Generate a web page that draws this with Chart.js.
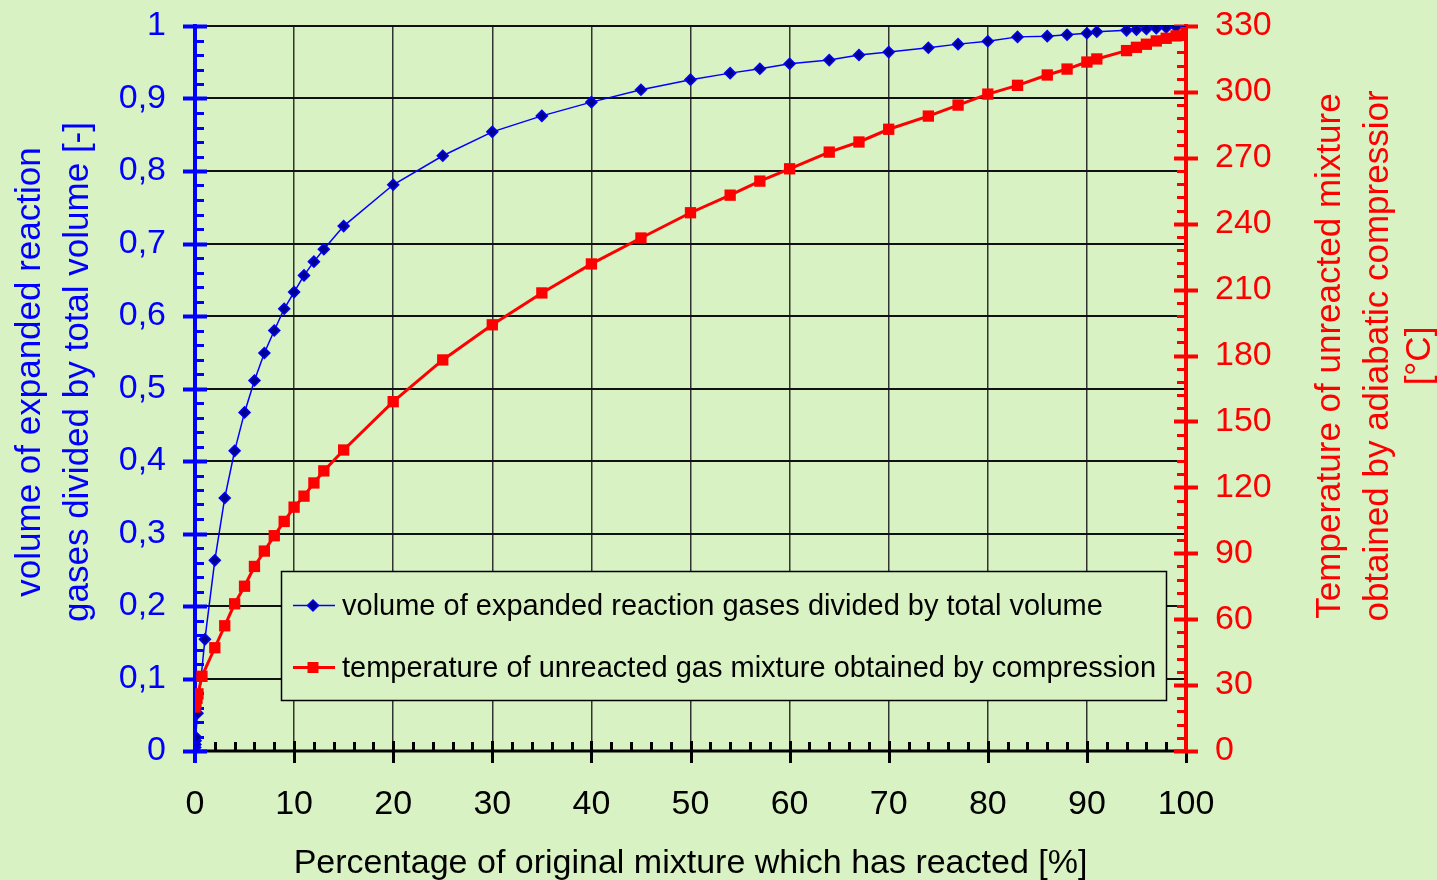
<!DOCTYPE html>
<html>
<head>
<meta charset="utf-8">
<script src="https://cdn.jsdelivr.net/npm/chart.js@4/dist/chart.umd.min.js"></script>
<style>
  html, body { margin: 0; padding: 0; background: #d9f2c3; }
  #wrap { position: relative; width: 1437px; height: 880px; }
</style>
</head>
<body>
<div id="wrap"><canvas id="c"></canvas></div>
<script>
// ---- data ----
const volumeX = [0.02, 0.04, 0.06, 0.1, 0.25, 1, 2, 3, 4, 5, 6, 7, 8, 9, 10, 11, 12, 13, 15, 20, 25, 30, 35, 40, 45, 50, 54, 57, 60, 64, 67, 70, 74, 77, 80, 83, 86, 88, 90, 91, 94, 95, 96, 97, 98, 99, 100];
const volumeY = [0.005, 0.009, 0.014, 0.019, 0.052, 0.154, 0.263, 0.349, 0.414, 0.467, 0.511, 0.549, 0.58, 0.61, 0.633, 0.656, 0.675, 0.692, 0.724, 0.781, 0.821, 0.854, 0.876, 0.895, 0.912, 0.926, 0.935, 0.941, 0.948, 0.953, 0.96, 0.964, 0.97, 0.975, 0.979, 0.985, 0.986, 0.988, 0.99, 0.992, 0.994, 0.995, 0.996, 0.997, 0.998, 0.999, 1.0];
const tempX = [0, 0.1, 0.2, 0.3, 0.7, 2, 3, 4, 5, 6, 7, 8, 9, 10, 11, 12, 13, 15, 20, 25, 30, 35, 40, 45, 50, 54, 57, 60, 64, 67, 70, 74, 77, 80, 83, 86, 88, 90, 91, 94, 95, 96, 97, 98, 99, 100];
const tempY = [20, 22, 24, 26, 34, 47, 57, 67, 75, 84, 91, 98, 104.5, 111, 116, 122, 127.5, 137, 159, 178, 194, 208.5, 221.7, 233.5, 245, 253, 259.4, 265, 272.6, 277.2, 283, 289, 294, 299, 303, 307.7, 310.4, 313.6, 315, 318.8, 320.3, 321.7, 323.2, 324.4, 325.5, 327];
const xTickValues = [0, 10, 20, 30, 40, 50, 60, 70, 80, 90, 100];
const volumeTickValues = [0, 0.1, 0.2, 0.3, 0.4, 0.5, 0.6, 0.7, 0.8, 0.9, 1];
const tempTickValues = [0, 30, 60, 90, 120, 150, 180, 210, 240, 270, 300, 330];
const seriesNames = [
  'volume of expanded reaction gases divided by total volume',
  'temperature of unreacted gas mixture obtained by compression'
];
const xTitle = 'Percentage of original mixture which has reacted [%]';
const leftTitle = ['volume of expanded reaction', 'gases divided by total volume [-]'];
const rightTitle = ['Temperature of unreacted mixture', 'obtained by adiabatic compressior', '[°C]'];

const FONT = '"Liberation Sans", Arial, sans-serif';
const BLUE = '#0000ff', NAVY = '#00008b', RED = '#ff0000', BG = '#d9f2c3';

const volumePts = volumeX.map((x, i) => ({ x, y: volumeY[i] }));
const tempPts = tempX.map((x, i) => ({ x, y: tempY[i] }));

function zeroPad(s) { s.paddingTop = 0; s.paddingBottom = 0; s.paddingLeft = 0; s.paddingRight = 0; }

const decor = {
  id: 'decor',
  beforeDraw(chart) {
    const ctx = chart.ctx;
    ctx.save();
    ctx.fillStyle = BG;
    ctx.fillRect(0, 0, chart.width, chart.height);
    ctx.restore();
  },
  beforeDatasetsDraw(chart) {
    const { ctx, chartArea: a, scales } = chart;
    const xs = scales.x, yl = scales.y, yr = scales.y1;
    ctx.save();
    ctx.strokeStyle = '#000';
    ctx.lineWidth = 3;
    for (let v = 0; v <= 100; v += 2) {
      const px = Math.round(xs.getPixelForValue(v)) + 0.5;
      ctx.beginPath();
      if (v % 10 === 0) { ctx.moveTo(px, a.bottom - 10); ctx.lineTo(px, a.bottom + 12); }
      else { ctx.moveTo(px, a.bottom - 9); ctx.lineTo(px, a.bottom); }
      ctx.stroke();
    }
    ctx.beginPath(); ctx.moveTo(a.left, a.bottom); ctx.lineTo(a.right, a.bottom); ctx.stroke();
    ctx.strokeStyle = BLUE;
    for (let k = 0; k <= 50; k++) {
      const py = Math.round(yl.getPixelForValue(k / 50)) + 0.5;
      ctx.beginPath();
      if (k % 5 === 0) { ctx.lineWidth = 4; ctx.moveTo(a.left - 12, py); ctx.lineTo(a.left + 12, py); }
      else { ctx.lineWidth = 3; ctx.moveTo(a.left, py); ctx.lineTo(a.left + 9, py); }
      ctx.stroke();
    }
    ctx.lineWidth = 4;
    ctx.beginPath(); ctx.moveTo(a.left, a.top - 2); ctx.lineTo(a.left, a.bottom + 12); ctx.stroke();
    ctx.strokeStyle = RED;
    for (let v = 0; v <= 330; v += 6) {
      const py = Math.round(yr.getPixelForValue(v)) + 0.5;
      ctx.beginPath();
      if (v % 30 === 0) { ctx.lineWidth = 4; ctx.moveTo(a.right - 12, py); ctx.lineTo(a.right + 12, py); }
      else { ctx.lineWidth = 3; ctx.moveTo(a.right - 9, py); ctx.lineTo(a.right, py); }
      ctx.stroke();
    }
    ctx.lineWidth = 4;
    ctx.beginPath(); ctx.moveTo(a.right, a.top - 2); ctx.lineTo(a.right, a.bottom); ctx.stroke();
    ctx.restore();
  },
  afterDatasetsDraw(chart) {
    const { ctx, chartArea: a } = chart;
    ctx.save();
    const lx = 281, ly = 571, lw = 885, lh = 129;
    ctx.fillStyle = BG;
    ctx.fillRect(lx, ly, lw, lh);
    ctx.strokeStyle = '#000';
    ctx.lineWidth = 1.5;
    ctx.strokeRect(lx + 0.5, ly + 0.5, lw, lh);
    const rows = [
      { y: 605.5, color: BLUE, lw: 1.5, style: 'diamond', r: 5.5 },
      { y: 667.5, color: RED, lw: 3, style: 'square', r: 5.5 }
    ];
    ctx.font = '29px ' + FONT;
    ctx.textBaseline = 'middle';
    rows.forEach((row, i) => {
      ctx.strokeStyle = row.color;
      ctx.lineWidth = row.lw;
      ctx.beginPath(); ctx.moveTo(293, row.y); ctx.lineTo(335, row.y); ctx.stroke();
      ctx.beginPath();
      if (row.style === 'diamond') {
        ctx.moveTo(313, row.y - row.r); ctx.lineTo(313 + row.r, row.y);
        ctx.lineTo(313, row.y + row.r); ctx.lineTo(313 - row.r, row.y); ctx.closePath();
        ctx.fillStyle = NAVY; ctx.fill();
        ctx.strokeStyle = BLUE; ctx.lineWidth = 1.5; ctx.stroke();
      } else {
        ctx.rect(313 - row.r, row.y - row.r, row.r * 2, row.r * 2);
        ctx.fillStyle = RED; ctx.fill();
      }
      ctx.fillStyle = '#000';
      ctx.textAlign = 'left';
      ctx.fillText(seriesNames[i], 342, row.y + 1);
    });
    ctx.fillStyle = '#000';
    ctx.font = '34px ' + FONT;
    ctx.textAlign = 'center';
    ctx.textBaseline = 'alphabetic';
    ctx.fillText(xTitle, (a.left + a.right) / 2, 873);

    ctx.font = '35px ' + FONT;
    ctx.textBaseline = 'middle';
    ctx.fillStyle = BLUE;
    const lcx = [30, 78];
    leftTitle.forEach((t, i) => {
      ctx.save(); ctx.translate(lcx[i], 372); ctx.rotate(-Math.PI / 2);
      ctx.fillText(t, 0, 0); ctx.restore();
    });
    ctx.fillStyle = RED;
    const rcx = [1330, 1378, 1420];
    rightTitle.forEach((t, i) => {
      ctx.save(); ctx.translate(rcx[i], 356); ctx.rotate(-Math.PI / 2);
      ctx.fillText(t, 0, 0); ctx.restore();
    });
    ctx.restore();
  }
};

new Chart(document.getElementById('c'), {
  type: 'scatter',
  data: {
    datasets: [
      {
        label: seriesNames[0], data: volumePts, yAxisID: 'y', showLine: true,
        borderColor: BLUE, backgroundColor: NAVY, borderWidth: 1.5,
        pointStyle: 'rectRot', pointRadius: 5.5, pointBorderWidth: 1.5, pointBorderColor: BLUE, order: 1
      },
      {
        label: seriesNames[1], data: tempPts, yAxisID: 'y1', showLine: true,
        borderColor: RED, backgroundColor: RED, borderWidth: 3,
        pointStyle: 'rect', pointRadius: 8, pointBorderWidth: 0, order: 0
      }
    ]
  },
  options: {
    responsive: true, maintainAspectRatio: false, animation: false,
    layout: { padding: { top: 26, left: 0, right: 0, bottom: 0 } },
    plugins: { legend: { display: false }, tooltip: { enabled: false } },
    scales: {
      x: {
        type: 'linear', min: 0, max: 100,
        afterFit(s) { s.height = 129; zeroPad(s); },
        afterBuildTicks(s) { s.ticks = xTickValues.map(v => ({ value: v })); },
        grid: { color: '#333', lineWidth: 1.5, drawTicks: false },
        border: { display: false },
        ticks: { color: '#000', padding: 33, font: { family: FONT, size: 34 }, maxRotation: 0 }
      },
      y: {
        type: 'linear', position: 'left', min: 0, max: 1,
        afterFit(s) { s.width = 195; zeroPad(s); },
        afterBuildTicks(s) { s.ticks = volumeTickValues.map(v => ({ value: v })); },
        grid: { color: '#111', lineWidth: 2, drawTicks: false },
        border: { display: false },
        ticks: {
          color: BLUE, padding: 29, font: { family: FONT, size: 34 },
          callback: v => String(Math.round(v * 10) / 10).replace('.', ',')
        }
      },
      y1: {
        type: 'linear', position: 'right', min: 0, max: 330,
        afterFit(s) { s.width = 251; zeroPad(s); },
        afterBuildTicks(s) { s.ticks = tempTickValues.map(v => ({ value: v })); },
        grid: { display: false, drawTicks: false },
        border: { display: false },
        ticks: { color: RED, padding: 29, font: { family: FONT, size: 34 } }
      }
    }
  },
  plugins: [decor]
});
</script>
</body>
</html>
